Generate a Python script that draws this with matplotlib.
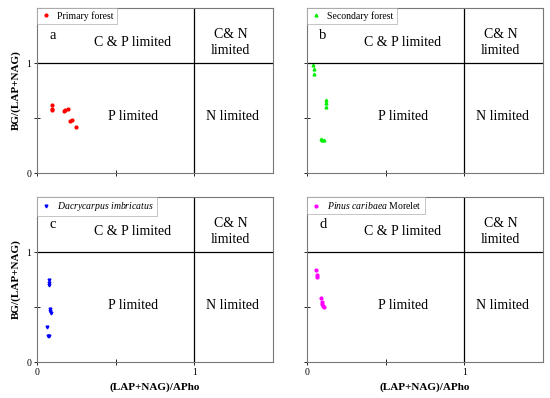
import numpy as np
import matplotlib
matplotlib.use('Agg')
import matplotlib.pyplot as plt

plt.rcParams['font.family'] = ['Liberation Serif', 'DejaVu Serif']
plt.rcParams['mathtext.fontset'] = 'custom'
plt.rcParams['mathtext.rm'] = 'Liberation Serif'
plt.rcParams['mathtext.it'] = 'Liberation Serif:italic'

# enzyme ratios
prim_x = [0.095, 0.095, 0.095, 0.17, 0.18, 0.195, 0.21, 0.22, 0.245]
prim_y = [0.62, 0.58, 0.57, 0.56, 0.57, 0.58, 0.47, 0.48, 0.415]

sec_x = [0.04, 0.042, 0.045, 0.119, 0.121, 0.121, 0.091, 0.098, 0.106]
sec_y = [0.985, 0.95, 0.90, 0.66, 0.64, 0.60, 0.31, 0.30, 0.30]

dac_x = [0.074, 0.074, 0.076, 0.08, 0.085, 0.087, 0.061, 0.068, 0.074]
dac_y = [0.747, 0.72, 0.70, 0.48, 0.46, 0.45, 0.32, 0.24, 0.24]

pin_x = [0.059, 0.062, 0.064, 0.091, 0.093, 0.098, 0.102, 0.106]
pin_y = [0.84, 0.79, 0.77, 0.58, 0.55, 0.53, 0.51, 0.50]

letters = ['a', 'b', 'c', 'd']
labels = ['Primary forest', 'Secondary forest',
          r'$\it{Dacrycarpus\ imbricatus}$', r'$\it{Pinus\ caribaea}$ Morelet']

fig = plt.figure(figsize=(5.5, 3.98), dpi=100)

boxes = [(37, 8), (307, 8), (37, 197), (307, 197)]
w, h = 236, 165
series = [(prim_x, prim_y, 'o', '#ff0000'),
          (sec_x, sec_y, '^', '#00ee00'),
          (dac_x, dac_y, 'v', '#0000ff'),
          (pin_x, pin_y, 'o', '#ff00ff')]

for i in range(4):
    x0, y0 = boxes[i]
    ax = fig.add_axes([x0 / 550., 1 - (y0 + h) / 398., w / 550., h / 398.])
    xs, ys, mk, col = series[i]
    ax.plot(xs, ys, linestyle='none', marker=mk, color=col, markersize=2,
            label=labels[i])
    ax.axvline(1, color='black', lw=0.9)
    ax.axhline(1, color='black', lw=0.9)
    ax.set_xlim(0, 1.5)
    ax.set_ylim(0, 1.5)
    ax.set_xticks([0, 1])
    ax.set_yticks([0, 1])
    ax.set_xticks([0.5], minor=True)
    ax.set_yticks([0.5], minor=True)
    ax.tick_params(which='both', direction='inout', length=4, width=0.6,
                   labelsize=7, pad=2)
    for s in ax.spines.values():
        s.set_color('#777777')
        s.set_linewidth(0.8)
    if i < 2:
        ax.set_xticklabels([])
    else:
        ax.set_xlabel('(LAP+NAG)/APho', fontsize=8, fontweight='bold')
    if i % 2 == 1:
        ax.set_yticklabels([])
    else:
        ax.set_ylabel('BG/(LAP+NAG)', fontsize=8, fontweight='bold')

    ax.text(0.10, 1.25, letters[i], fontsize=10.5, ha='center', va='center')
    ax.text(0.61, 1.19, 'C & P limited', fontsize=10, ha='center', va='center')
    ax.text(1.23, 1.19, 'C& N\nlimited', fontsize=10, ha='center', va='center',
            linespacing=1.3)
    ax.text(0.61, 0.51, 'P limited', fontsize=10, ha='center', va='center')
    ax.text(1.24, 0.51, 'N limited', fontsize=10, ha='center', va='center')

    leg = ax.legend(loc='upper left', fontsize=7, frameon=True, fancybox=False,
                    borderaxespad=0, handlelength=1.2, handletextpad=0.6,
                    borderpad=0.3, markerscale=1.0)
    leg.get_frame().set_edgecolor('#aaaaaa')
    leg.get_frame().set_linewidth(0.6)

plt.savefig('out.png', dpi=100)
